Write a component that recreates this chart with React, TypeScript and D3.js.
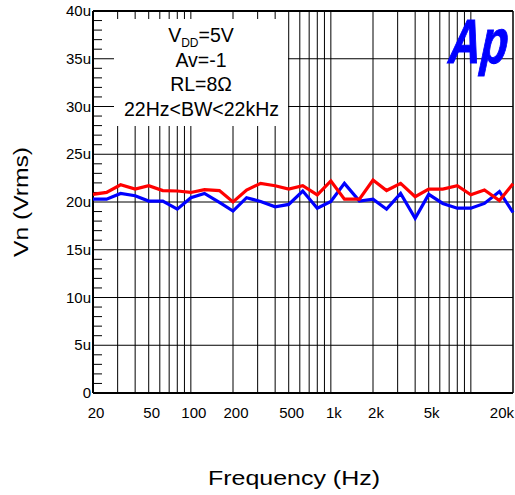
import React from "react";
import * as d3 from "d3";

const freqs = [20, 25, 31.5, 40, 50, 63, 80, 100, 125, 160, 200, 250, 315, 400, 500, 630, 800, 1000, 1250, 1600, 2000, 2500, 3150, 4000, 5000, 6300, 8000, 10000, 12500, 16000, 20000];
const redVals = [20.8, 21.0, 21.8, 21.35, 21.7, 21.2, 21.15, 21.0, 21.3, 21.2, 20.0, 21.25, 21.95, 21.7, 21.35, 21.7, 20.75, 22.2, 20.3, 20.3, 22.3, 21.2, 21.95, 20.55, 21.35, 21.35, 21.7, 20.75, 21.25, 20.15, 21.9];
const blueVals = [20.3, 20.3, 20.9, 20.65, 20.1, 20.1, 19.25, 20.45, 20.9, 19.95, 19.05, 20.45, 20.05, 19.5, 19.75, 21.15, 19.35, 20.05, 21.95, 20.1, 20.3, 19.25, 20.9, 18.3, 20.8, 19.85, 19.35, 19.35, 19.85, 21.1, 18.9];
const xTickLabels = [
  { v: 20, t: "20" }, { v: 50, t: "50" }, { v: 100, t: "100" }, { v: 200, t: "200" },
  { v: 500, t: "500" }, { v: 1000, t: "1k" }, { v: 2000, t: "2k" }, { v: 5000, t: "5k" }, { v: 20000, t: "20k" },
];
const yTickLabels = [
  { v: 0, t: "0" }, { v: 5, t: "5u" }, { v: 10, t: "10u" }, { v: 15, t: "15u" }, { v: 20, t: "20u" },
  { v: 25, t: "25u" }, { v: 30, t: "30u" }, { v: 35, t: "35u" }, { v: 40, t: "40u" },
];

const FONT = "'Liberation Sans', Arial, sans-serif";

export default function App() {
  const L = 93, R = 513, T = 11, B = 393;
  const x = d3.scaleLog().domain([20, 20000]).range([L, R]);
  const y = d3.scaleLinear().domain([0, 40]).range([B, T]);
  const xGrid = x.ticks().filter((v) => v > 20 && v < 20000);
  const yMajor = y.ticks(8).filter((v) => v > 0 && v < 40);
  const yMinor = y.ticks(40).filter((v) => v % 5 !== 0);
  const line = d3.line<number>().x((_, i) => x(freqs[i])).y((d) => y(d));

  return (
    <svg width={515} height={495} style={{ position: "absolute", left: 0, top: 0, background: "#fff" }} fontFamily={FONT}>
      <rect x={0} y={0} width={515} height={495} fill="#fff" />
      {xGrid.map((v) => (
        <line key={"xg" + v} x1={x(v)} x2={x(v)} y1={T} y2={B} stroke="#000" strokeWidth={1} />
      ))}
      {yMajor.map((v) => (
        <line key={"yg" + v} x1={L} x2={R} y1={y(v)} y2={y(v)} stroke="#000" strokeWidth={1} />
      ))}
      {yMinor.map((v) => (
        <line key={"ym" + v} x1={L} x2={L + 9} y1={y(v)} y2={y(v)} stroke="#000" strokeWidth={1} />
      ))}
      {/* legend box */}
      <rect x={114} y={19} width={174} height={107} fill="#fff" />
      <g fontSize={19.5} textAnchor="middle" fill="#000">
        <text x={201} y={42}>
          V<tspan fontSize={12} dy={5}>DD</tspan><tspan dy={-5}>=5V</tspan>
        </text>
        <text x={201} y={66.5}>Av=-1</text>
        <text x={201} y={91}>RL=8Ω</text>
        <text x={201.5} y={116}>22Hz&lt;BW&lt;22kHz</text>
      </g>
      {/* frame */}
      <line x1={L} x2={R} y1={T} y2={T} stroke="#000" strokeWidth={2} />
      <line x1={L} x2={R} y1={B} y2={B} stroke="#000" strokeWidth={2} />
      <line x1={L} x2={L} y1={T} y2={B} stroke="#000" strokeWidth={2} />
      <line x1={R} x2={R} y1={T} y2={B} stroke="#000" strokeWidth={1.5} />
      {/* data */}
      <path d={line(blueVals) || ""} fill="none" stroke="#0000ff" strokeWidth={3.2} />
      <path d={line(redVals) || ""} fill="none" stroke="#ff0000" strokeWidth={3.2} />
      {/* axis labels */}
      <g fontSize={15} fill="#000">
        {yTickLabels.map((d) => (
          <text key={"yl" + d.v} x={91} y={y(d.v) + 5} textAnchor="end">{d.t}</text>
        ))}
        {xTickLabels.map((d, i) => (
          <text key={"xl" + d.v} x={i === xTickLabels.length - 1 ? 514 : x(d.v) + 3} y={418}
            textAnchor={i === xTickLabels.length - 1 ? "end" : "middle"}>{d.t}</text>
        ))}
      </g>
      <text x={294} y={485} fontSize={20} textAnchor="middle" textLength={172} lengthAdjust="spacingAndGlyphs">Frequency (Hz)</text>
      <text transform="translate(28,202) rotate(-90)" fontSize={20} textAnchor="middle" textLength={110} lengthAdjust="spacingAndGlyphs">Vn (Vrms)</text>
      {/* Ap logo */}
      <g transform="translate(446,63) skewX(-12) scale(1,1.42)">
        <text x={0} y={0} fontSize={44} fontWeight="bold" fill="#0000ff" stroke="#0000ff" strokeWidth={0.8}>Ap</text>
      </g>
    </svg>
  );
}
